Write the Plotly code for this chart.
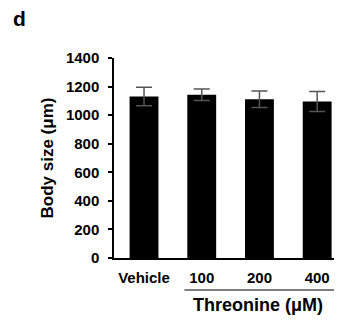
import plotly.graph_objects as go

categories = ["Vehicle", "100", "200", "400"]
values = [1130, 1143, 1111, 1095]
errors = [65, 40, 58, 70]
y_ticks = [0, 200, 400, 600, 800, 1000, 1200, 1400]

FONT = "Arial, Liberation Sans, sans-serif"

fig = go.Figure()
fig.add_trace(go.Bar(
    x=list(range(len(categories))), y=values, width=0.5,
    marker=dict(color="black", line=dict(width=0)),
    error_y=dict(type="data", array=errors, visible=True, color="#555555", thickness=1.5, width=8),
))

fig.update_layout(
    width=334, height=312,
    margin=dict(l=106, r=0, t=50, b=62),
    plot_bgcolor="white", paper_bgcolor="white",
    showlegend=False,
    font=dict(family=FONT, color="black"),
    xaxis=dict(
        range=[-0.52, 3.43], tickmode="array", tickvals=list(range(len(categories))),
        ticktext=["<b>%s</b>" % c for c in categories],
        tickfont=dict(size=15, family=FONT, color="black"),
        ticklabelstandoff=5,
        showline=True, linecolor="black", linewidth=2, ticks="", showgrid=False, zeroline=False,
    ),
    yaxis=dict(
        range=[0, 1400], tickvals=y_ticks, ticktext=["<b>%d</b>" % v for v in y_ticks],
        tickfont=dict(size=15, family=FONT, color="black"),
        ticklabelstandoff=6,
        showline=True, linecolor="black", linewidth=1.5, ticks="outside", ticklen=4, tickwidth=1.5,
        tickcolor="black", showgrid=False, zeroline=False,
        title=dict(text="<b>Body size (μm)</b>", font=dict(size=17, family=FONT, color="black"), standoff=8),
    ),
)

fig.add_shape(type="line", xref="x", yref="paper", x0=0.7, x1=3.43, y0=-0.16, y1=-0.16,
              line=dict(color="black", width=1.2))
fig.add_annotation(text="<b>Threonine (μM)</b>", xref="x", yref="paper", x=1.98, y=-0.235,
                   showarrow=False, yanchor="middle", font=dict(size=18, family=FONT, color="black"))
fig.add_annotation(text="<b>d</b>", xref="paper", yref="paper", x=-0.415, y=1.2,
                   xanchor="center", yanchor="middle", showarrow=False,
                   font=dict(size=21, family=FONT, color="black"))

fig.write_html("out.html")
